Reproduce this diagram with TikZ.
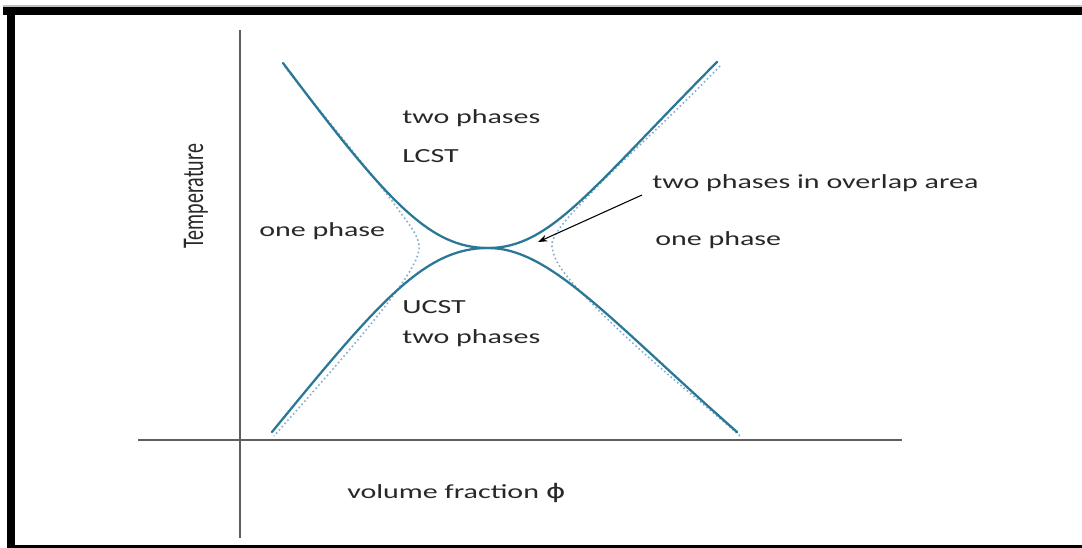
\documentclass[tikz,border=0pt]{standalone}
\usepackage{fontspec}
\setmainfont{Carlito}
\newfontfamily\dejavu{DejaVu Sans}
\usetikzlibrary{arrows.meta}
\definecolor{curvec}{RGB}{42,120,150}
\definecolor{dotc}{RGB}{130,175,205}
\definecolor{axisc}{RGB}{95,95,95}
\definecolor{txtc}{RGB}{40,40,40}
\newcommand{\sx}[1]{\scalebox{1.5}[1]{#1}}
\begin{document}
\begin{tikzpicture}[x=0.75pt,y=-0.75pt,
  lbl/.style={font=\fontsize{15}{17}\selectfont, text=txtc, inner sep=0pt, anchor=west},
  axisline/.style={draw=axisc, line width=1.4pt},
  phase/.style={draw=curvec, line width=1.7pt, line cap=round},
  dotline/.style={draw=dotc, line width=1.2pt, dotted},
  pointer/.style={draw=black, line width=0.8pt, -{Stealth[length=7pt,width=5pt]}}]
\useasboundingbox (0,0) rectangle (1082,548);
\fill[white] (0,0) rectangle (1082,548);
% frame
\fill[black!25] (3,5) rectangle (1082,7);
\fill[black] (3,7) rectangle (1082,15);
\fill[black] (7,7) rectangle (15,548);
\fill[black] (7,545) rectangle (1082,548);
% axes
\coordinate (yTop) at (240,30);
\coordinate (yBot) at (240,538);
\coordinate (xL) at (138,440);
\coordinate (xR) at (902,440);
\draw[axisline] (yBot) -- (yTop);
\draw[axisline] (xL) -- (xR);
% key points
\coordinate (ulS) at (283,63);
\coordinate (urE) at (717,62);
\coordinate (llS) at (272,432);
\coordinate (lrE) at (737,432);
\coordinate (crit) at (488,248);
% dotted curves
\draw[dotline] (285,67) .. controls (340,136) and (385,190) .. (400,212)
   .. controls (412,228) and (421,240) .. (419,250)
   .. controls (417,262) and (405,279) .. (396,292)
   .. controls (360,340) and (310,395) .. (274,436);
\draw[dotline] (720,66) .. controls (662,126) and (612,170) .. (592,192)
   .. controls (572,213) and (550,235) .. (552,247)
   .. controls (554,262) and (566,276) .. (579,290)
   .. controls (640,355) and (700,400) .. (740,436);
% solid curves
\draw[phase] (ulS) .. controls (388,203) and (430,248) .. (crit)
   .. controls (550,248) and (590,190) .. (urE);
\draw[phase] (llS) .. controls (380,300) and (425,248) .. (crit)
   .. controls (550,248) and (610,320) .. (lrE);
% labels
\node[lbl] (tpU) at (402,118) {\sx{two phases}};
\node[lbl] (lcst) at (402,156) {\sx{LCST}};
\node[lbl] (opL) at (259,231) {\sx{one phase}};
\node[lbl] (ovl) at (652,183) {\sx{two phases in overlap area}};
\node[lbl] (opR) at (655,240) {\sx{one phase}};
\node[lbl] (ucst) at (402,307) {\sx{UCST}};
\node[lbl] (tpL) at (402,338) {\sx{two phases}};
\node[lbl] (xlab) at (347,493) {\sx{volume fraction {\dejavu ϕ}}};
\node[font=\fontsize{15}{17}\selectfont, text=txtc, inner sep=0pt] (ylab) at (196,196) {\scalebox{1.5}[1]{\rotatebox{90}{Temperature}}};
% arrow
\coordinate (arrS) at (642,195);
\coordinate (arrE) at (538,242);
\draw[pointer] (arrS) -- (arrE);
\end{tikzpicture}
\end{document}
